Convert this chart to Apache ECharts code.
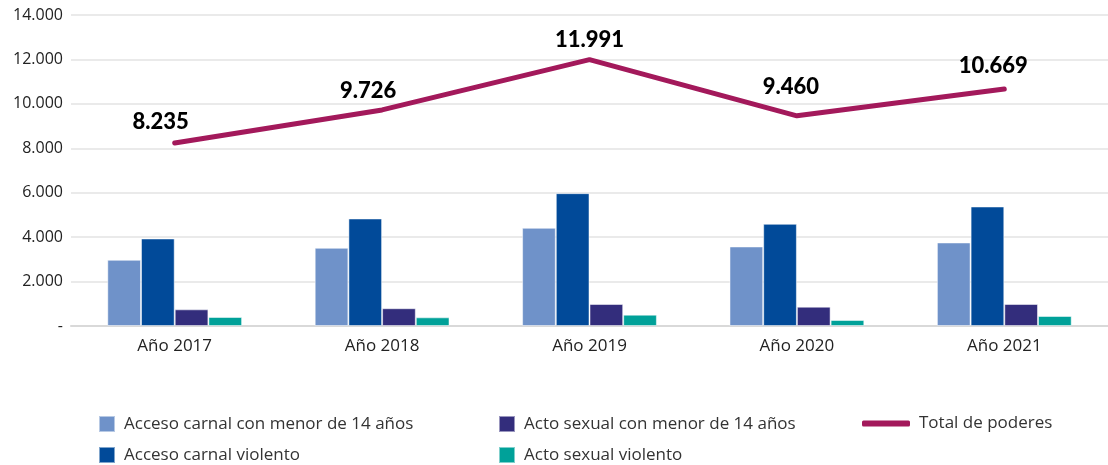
<!DOCTYPE html>
<html>
<head>
<meta charset="utf-8">
<script src="https://cdn.jsdelivr.net/npm/echarts@6/dist/echarts.min.js"></script>
<style>
  html, body { margin: 0; padding: 0; background: #fff; }
  #main { width: 1108px; height: 465px; }
</style>
</head>
<body>
<div id="main"></div>
<script>
var years = ['Año 2017', 'Año 2018', 'Año 2019', 'Año 2020', 'Año 2021'];
var accesoMenor = [2980, 3520, 4420, 3580, 3760];
var accesoViolento = [3940, 4840, 5980, 4600, 5380];
var actoMenor = [750, 800, 990, 870, 990];
var actoViolento = [405, 390, 510, 270, 450];
var totalPoderes = [8235, 9726, 11991, 9460, 10669];

// label nudges, as placed in the original
var labelShift = [[-14, 0], [-14, 2], [0, 2], [-6, -7], [-11, -2]];

function fmt(v) {
    if (v === 0) return '-';
    return String(v).replace(/\B(?=(\d{3})+(?!\d))/g, '.');
}

var myChart = echarts.init(document.getElementById('main'));
var font = '"Open Sans", Lato, sans-serif';
var legendText = { fontSize: 17, color: '#333', fontFamily: font, padding: [0, 0, 0, 4] };

myChart.setOption({
    textStyle: { fontFamily: font },
    grid: { left: 71, right: -10, top: 15, bottom: 139 },
    legend: [{
        left: 93, top: 410, orient: 'vertical', height: 75,
        itemWidth: 16, itemHeight: 16, itemGap: 13,
        textStyle: legendText,
        data: [{ name: 'Acceso carnal con menor de 14 años', icon: 'rect' },
               { name: 'Acceso carnal violento', icon: 'rect' }]
    }, {
        left: 493, top: 410, orient: 'vertical', height: 75,
        itemWidth: 16, itemHeight: 16, itemGap: 13,
        textStyle: legendText,
        data: [{ name: 'Acto sexual con menor de 14 años', icon: 'rect' },
               { name: 'Acto sexual violento', icon: 'rect' }]
    }, {
        left: 857, top: 410,
        itemWidth: 48, itemHeight: 6,
        textStyle: legendText,
        data: [{ name: 'Total de poderes', icon: 'roundRect' }]
    }],
    xAxis: {
        type: 'category',
        data: years,
        axisLine: { lineStyle: { color: '#d9d9d9', width: 2 } },
        axisTick: { show: false },
        axisLabel: { fontSize: 17, color: '#222', margin: 12 }
    },
    yAxis: {
        type: 'value',
        min: 0, max: 14000, interval: 2000,
        axisLine: { show: false },
        axisTick: { show: false },
        splitLine: { lineStyle: { color: '#e3e3e3', width: 1.5 } },
        axisLabel: { fontSize: 16, color: '#222', margin: 8, formatter: fmt }
    },
    series: [{
        name: 'Acceso carnal con menor de 14 años', type: 'bar',
        data: accesoMenor, barGap: 0, barCategoryGap: '35%',
        itemStyle: { color: '#6f92c9', borderColor: 'rgba(255,255,255,0.5)', borderWidth: 1 }
    }, {
        name: 'Acceso carnal violento', type: 'bar',
        data: accesoViolento,
        itemStyle: { color: '#014a99', borderColor: 'rgba(255,255,255,0.5)', borderWidth: 1 }
    }, {
        name: 'Acto sexual con menor de 14 años', type: 'bar',
        data: actoMenor,
        itemStyle: { color: '#332d7c', borderColor: 'rgba(255,255,255,0.5)', borderWidth: 1 }
    }, {
        name: 'Acto sexual violento', type: 'bar',
        data: actoViolento,
        itemStyle: { color: '#00a199', borderColor: 'rgba(255,255,255,0.5)', borderWidth: 1 }
    }, {
        name: 'Total de poderes', type: 'line',
        data: totalPoderes.map(function (v, i) {
            return { value: v, label: { offset: labelShift[i] } };
        }),
        symbol: 'circle', symbolSize: 1, showSymbol: true,
        lineStyle: { color: '#a3195b', width: 5, cap: 'round', join: 'round' },
        itemStyle: { color: '#a3195b' },
        label: {
            show: true, position: 'top', distance: 10,
            fontSize: 22, fontWeight: 900, color: '#000', fontFamily: 'Lato, sans-serif',
            formatter: function (p) { return fmt(p.value); }
        }
    }]
});
</script>
</body>
</html>
